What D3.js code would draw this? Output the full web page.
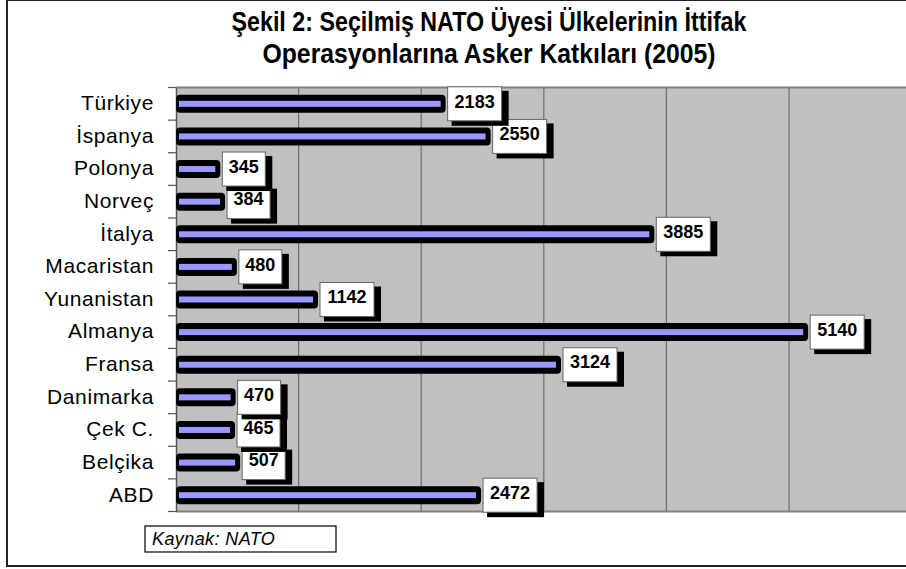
<!DOCTYPE html>
<html>
<head>
<meta charset="utf-8">
<script src="https://cdn.jsdelivr.net/npm/d3@7"></script>
<style>
  body { margin: 0; background: #fff; }
  svg { display: block; font-family: Arial, 'Liberation Sans', sans-serif; }
</style>
</head>
<body>
<div class="graph"><svg id="bar-chart"></svg></div>
<script>
const countries = ['Türkiye', 'İspanya', 'Polonya', 'Norveç', 'İtalya', 'Macaristan',
  'Yunanistan', 'Almanya', 'Fransa', 'Danimarka', 'Çek C.', 'Belçika', 'ABD']
const troops = [2183, 2550, 345, 384, 3885, 480, 1142, 5140, 3124, 470, 465, 507, 2472]
const xTicks = [0, 1000, 2000, 3000, 4000, 5000, 6000]
const titleLines = ['Şekil 2: Seçilmiş NATO Üyesi Ülkelerinin İttifak',
  'Operasyonlarına Asker Katkıları (2005)']
const sourceText = 'Kaynak: NATO'

const width = 906
const height = 569
const plot = { left: 176, top: 87.5, right: 911.6, bottom: 511.5 }

const data = countries.map((c, i) => ({ name: c, value: troops[i] }))

const svg = d3.select('#bar-chart')
  .attr('width', width)
  .attr('height', height)

// outer frame
svg.append('rect')
  .attr('x', 7)
  .attr('y', 0)
  .attr('width', 920)
  .attr('height', 566)
  .attr('fill', '#fff')
  .attr('stroke', '#222')
  .attr('stroke-width', 2)

// title
const titleW = [515, 453]
titleLines.forEach((t, i) => {
  svg.append('text')
    .attr('x', 489)
    .attr('y', 31 + i * 32)
    .attr('text-anchor', 'middle')
    .attr('font-size', '27px')
    .attr('font-weight', 'bold')
    .attr('textLength', titleW[i])
    .attr('lengthAdjust', 'spacingAndGlyphs')
    .text(t)
})

const x = d3.scaleLinear().domain([0, 6000]).range([plot.left, plot.right])
const y = d3.scaleBand()
  .domain(countries)
  .range([plot.top, plot.bottom])

svg.append('rect')
  .attr('x', plot.left)
  .attr('y', plot.top)
  .attr('width', plot.right - plot.left)
  .attr('height', plot.bottom - plot.top)
  .attr('fill', '#c0c0c0')

// vertical gridlines
svg.append('g')
  .selectAll('line')
  .data(xTicks.slice(1))
  .join('line')
  .attr('x1', d => x(d))
  .attr('x2', d => x(d))
  .attr('y1', plot.top)
  .attr('y2', plot.bottom)
  .attr('stroke', '#6e6e6e')
  .attr('stroke-width', 1.2)

// top / bottom edges of the plot
svg.append('line')
  .attr('x1', plot.left).attr('x2', width)
  .attr('y1', plot.top).attr('y2', plot.top)
  .attr('stroke', '#808080').attr('stroke-width', 2)
svg.append('line')
  .attr('x1', plot.left).attr('x2', width)
  .attr('y1', plot.bottom).attr('y2', plot.bottom)
  .attr('stroke', '#808080').attr('stroke-width', 2)

// category axis
const yAxis = svg.append('g')
  .attr('class', 'y-axis')
  .attr('transform', 'translate(' + plot.left + ',0)')
  .call(d3.axisLeft(y).tickSize(0).tickPadding(22))
yAxis.select('.domain').attr('stroke', '#555').attr('stroke-width', 1.5)
yAxis.selectAll('text')
  .attr('font-size', '21px')
  .attr('letter-spacing', '0.6px')
  .attr('dy', '0.3em')
  .attr('font-family', 'Arial, Liberation Sans, sans-serif')
  .attr('fill', '#000')

// band boundary ticks
const bounds = countries.map(c => y(c)).concat([plot.bottom])
svg.append('g')
  .selectAll('line')
  .data(bounds)
  .join('line')
  .attr('x1', plot.left - 8)
  .attr('x2', plot.left)
  .attr('y1', d => d)
  .attr('y2', d => d)
  .attr('stroke', '#555')
  .attr('stroke-width', 1.2)

const bw = y.bandwidth()

// bars
const bars = svg.append('g').attr('class', 'bars')
bars.selectAll('rect.outer')
  .data(data)
  .join('rect')
  .attr('class', 'outer')
  .attr('x', plot.left)
  .attr('y', d => y(d.name) + bw / 2 - 9)
  .attr('width', d => x(d.value) - plot.left + 2)
  .attr('height', 18)
  .attr('rx', 4)
  .attr('fill', '#000')
bars.selectAll('rect.inner')
  .data(data)
  .join('rect')
  .attr('class', 'inner')
  .attr('x', plot.left + 3)
  .attr('y', d => y(d.name) + bw / 2 - 3)
  .attr('width', d => x(d.value) - plot.left - 6)
  .attr('height', 6)
  .attr('fill', '#9999ff')

// value labels, drawn bottom to top
const labels = svg.append('g').attr('class', 'labels')
data.slice().reverse().forEach(d => {
  const lw = String(d.value).length === 4 ? 54 : 43
  const lx = x(d.value) + 4
  const ly = y(d.name) + bw / 2 - 17
  const g = labels.append('g')
  g.append('rect')
    .attr('x', lx + 4)
    .attr('y', ly + 4)
    .attr('width', lw + 3)
    .attr('height', 35)
    .attr('fill', '#000')
  g.append('rect')
    .attr('x', lx)
    .attr('y', ly)
    .attr('width', lw)
    .attr('height', 34)
    .attr('fill', '#fff')
    .attr('stroke', '#666')
    .attr('stroke-width', 1)
  g.append('text')
    .attr('x', lx + lw / 2)
    .attr('y', ly + 16)
    .attr('text-anchor', 'middle')
    .attr('dominant-baseline', 'middle')
    .attr('font-size', '18px')
    .attr('font-weight', 'bold')
    .text(d.value)
})

// source box
svg.append('rect')
  .attr('x', 145)
  .attr('y', 526)
  .attr('width', 191)
  .attr('height', 26)
  .attr('fill', '#fff')
  .attr('stroke', '#000')
  .attr('stroke-width', 1.2)
svg.append('text')
  .attr('x', 152)
  .attr('y', 545)
  .attr('font-size', '18px')
  .attr('font-style', 'italic')
  .attr('letter-spacing', '0.4px')
  .text(sourceText)
</script>
</body>
</html>
